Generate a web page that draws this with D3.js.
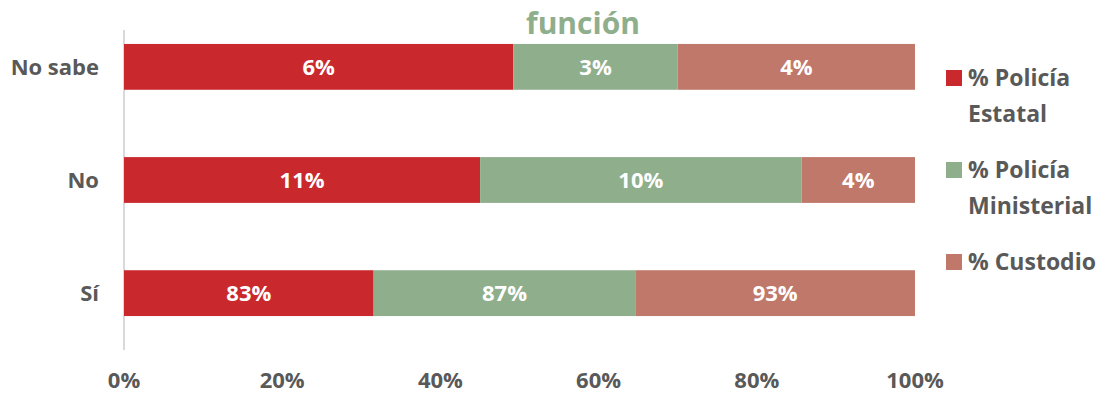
<!DOCTYPE html>
<html><head><meta charset="utf-8">
<script src="https://cdn.jsdelivr.net/npm/d3@7"></script>
<style>body{margin:0;background:#fff}svg{display:block;font-family:"Open Sans",sans-serif;font-weight:700}</style>
</head><body><svg id="c" width="1099" height="394"></svg>
<script>
const categories = ["No sabe", "No", "Sí"];
const series = ["% Policía Estatal", "% Policía Ministerial", "% Custodio"];
const estatal = [6.4, 11.3, 83];
const ministerial = [2.7, 10.2, 87];
const custodio = [3.9, 3.6, 93];
const colors = ["#c9282d", "#8fae8c", "#c0786b"];
const ticks = [0, 0.2, 0.4, 0.6, 0.8, 1];

const svg = d3.select("#c");
const rows = categories.map((c, i) => ({cat: c, vals: [estatal[i], ministerial[i], custodio[i]]}));
const x = d3.scaleLinear().domain([0, 1]).range([124, 915]);
const y = d3.scaleBand().domain(categories).range([10, 350]).paddingInner(0.595).paddingOuter(0.3);

svg.append("text").attr("x", 583).attr("y", 34).attr("text-anchor", "middle")
  .attr("font-size", 30).attr("fill", "#8fae8c").text("función");

svg.append("line").attr("x1", 124).attr("x2", 124).attr("y1", 30).attr("y2", 350)
  .attr("stroke", "#d9d9d9").attr("stroke-width", 2);

rows.forEach(r => {
  const tot = d3.sum(r.vals);
  let acc = 0;
  r.vals.forEach((v, j) => {
    const x0 = x(acc / tot), x1 = x((acc + v) / tot);
    svg.append("rect").attr("x", x0).attr("y", y(r.cat)).attr("width", x1 - x0)
      .attr("height", y.bandwidth()).attr("fill", colors[j]);
    svg.append("text").attr("x", (x0 + x1) / 2).attr("y", y(r.cat) + y.bandwidth() / 2 + 8)
      .attr("text-anchor", "middle").attr("font-size", 22).attr("fill", "#fff")
      .text(Math.round(v) + "%");
    acc += v;
  });
  svg.append("text").attr("x", 99).attr("y", y(r.cat) + y.bandwidth() / 2 + 8)
    .attr("text-anchor", "end").attr("font-size", 22).attr("fill", "#595959").text(r.cat);
});

svg.selectAll(".tk").data(ticks).join("text").attr("x", d => x(d)).attr("y", 388)
  .attr("text-anchor", "middle").attr("font-size", 22).attr("fill", "#595959")
  .text(d => Math.round(d * 100) + "%");

const legY = [70, 162, 254];
series.forEach((s, i) => {
  const g = svg.append("g").attr("transform", `translate(946,${legY[i]})`);
  g.append("rect").attr("width", 16).attr("height", 16).attr("fill", colors[i]);
  const parts = s.split(" ");
  const lines = parts.length > 2 ? [parts[0] + " " + parts[1], parts.slice(2).join(" ")] : [s];
  lines.forEach((l, k) => {
    g.append("text").attr("x", 22).attr("y", 16 + k * 36).attr("font-size", 23)
      .attr("fill", "#595959").text(l);
  });
});
</script></body></html>
